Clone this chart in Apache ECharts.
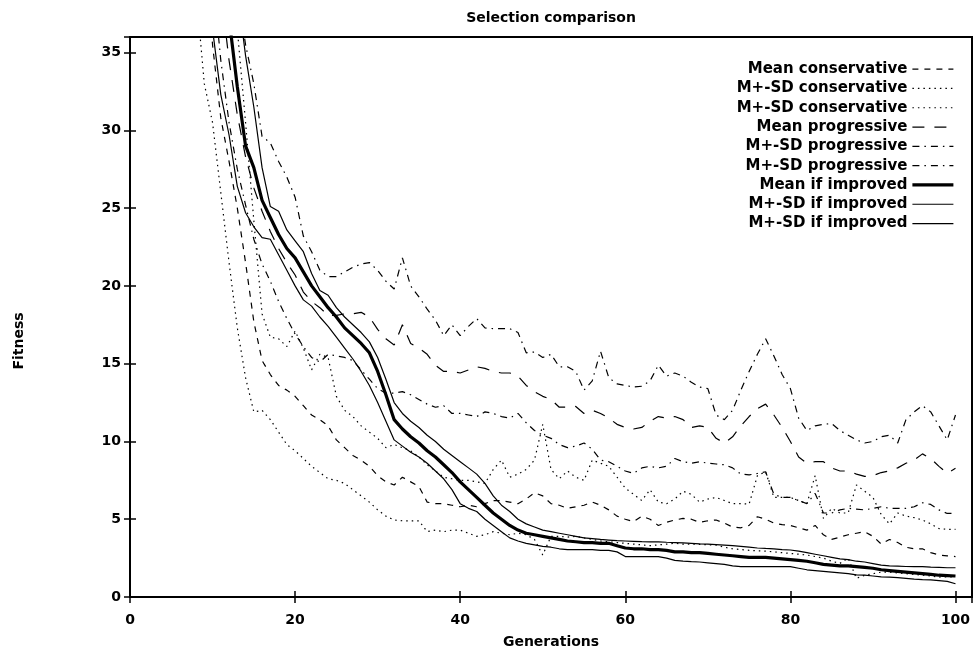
<!DOCTYPE html>
<html>
<head>
<meta charset="utf-8">
<script src="https://cdn.jsdelivr.net/npm/echarts@6/dist/echarts.min.js"></script>
<style>
  html, body { margin: 0; padding: 0; background: #fff; }
  #chart { width: 976px; height: 653px; }
</style>
</head>
<body>
<div id="chart"></div>
<script>
// generations 8..100, one value per generation
const firstGen = 8

const meanCons = [
  48, 42, 35.5, 30.8, 28, 25, 21.5, 17.7, 15.2, 14.3,
  13.6, 13.3, 12.9, 12.3, 11.7, 11.4, 11.0, 10.1, 9.6, 9.1,
  8.8, 8.4, 7.8, 7.4, 7.2, 7.7, 7.4, 7.1, 6.1, 6.0,
  6.0, 5.9, 5.8, 5.9, 5.8, 6.0, 6.2, 6.2, 6.1, 6.0,
  6.3, 6.7, 6.5, 6.0, 5.9, 5.7, 5.8, 5.9, 6.1, 5.9,
  5.6, 5.2, 5.0, 4.85, 5.2, 5.0, 4.6, 4.8, 4.95, 5.05,
  5.0, 4.8, 4.9, 4.95, 4.75, 4.5, 4.45, 4.6, 5.16, 5.0,
  4.75, 4.65, 4.6, 4.45, 4.3, 4.6, 4.0, 3.7, 3.85, 4.0,
  4.1, 4.2, 3.9, 3.4, 3.7, 3.5, 3.2, 3.1, 3.1, 2.85,
  2.7, 2.65, 2.6
]
const consLo = [
  39, 33, 30.5, 26, 21.5, 17.3, 14.1, 11.9, 12.0, 11.4,
  10.6, 9.8, 9.4, 8.9, 8.4, 8.0, 7.6, 7.5, 7.3, 6.9,
  6.5, 6.1, 5.6, 5.2, 4.95, 4.9, 4.9, 4.9, 4.2, 4.3,
  4.2, 4.3, 4.3, 4.1, 3.9, 4.0, 4.2, 4.1, 4.0, 4.1,
  4.0, 3.7, 2.7, 3.9, 3.9, 3.85, 3.9, 3.8, 3.7, 3.6,
  3.55, 3.5, 3.45, 3.4, 3.35, 3.3, 3.35, 3.4, 3.45, 3.4,
  3.4, 3.38, 3.36, 3.34, 3.2, 3.1, 3.05, 3.0, 2.97, 2.95,
  2.9, 2.85, 2.8, 2.75, 2.7, 2.6, 2.5, 2.3, 2.16, 2.5,
  1.2, 1.4, 1.5, 1.6, 1.6, 1.55, 1.5, 1.45, 1.4, 1.35,
  1.28, 1.3, 1.3
]
const consHi = [
  70, 60, 52, 46, 41, 36.5, 30.5, 24.2, 18.2, 16.7,
  16.6, 16.1, 17.1, 16.0, 14.6, 15.6, 15.4, 12.9, 12.0, 11.6,
  11.0, 10.6, 10.2, 9.6, 9.8, 9.6, 9.4, 9.0, 8.5, 8.1,
  7.7, 7.6, 7.5, 7.5, 7.4, 7.3, 8.2, 8.8, 7.7, 7.9,
  8.2, 8.8, 11.1, 8.2, 7.6, 8.1, 7.7, 7.5, 8.8, 8.6,
  8.4, 7.7, 7.0, 6.6, 6.2, 6.9, 6.1, 6.0, 6.3, 6.8,
  6.6, 6.1, 6.3, 6.4, 6.2, 6.0, 6.0, 5.97, 7.8, 8.05,
  6.4, 6.4, 6.4, 6.2, 6.0, 7.8, 5.05, 5.7, 5.4, 5.4,
  7.2, 6.8, 6.4, 5.3, 4.7, 5.4, 5.2, 5.1, 4.95, 4.7,
  4.4, 4.35, 4.35
]
const meanProg = [
  60, 52, 45, 39, 34.5, 31, 28.3, 26.3, 24.8, 23.5,
  22.4, 21.5, 20.7, 19.6, 19.0, 18.6, 18.1, 18.1, 18.2, 18.2,
  18.3, 18.0, 17.2, 16.6, 16.2, 17.5, 16.3, 16.0, 15.6, 14.9,
  14.5, 14.5, 14.4, 14.6, 14.8, 14.7, 14.5, 14.4, 14.4, 14.2,
  13.6, 13.2, 12.9, 12.7, 12.2, 12.2, 12.25, 11.8, 12.0, 11.8,
  11.5, 11.1, 10.9, 10.8, 10.9, 11.3, 11.6, 11.5, 11.6, 11.4,
  10.9, 11.0, 10.9, 10.2, 9.9, 10.3, 11.0, 11.6, 12.1, 12.4,
  11.7, 10.9, 10.0, 9.0, 8.6, 8.7, 8.7, 8.3, 8.1, 8.1,
  7.9, 7.75, 7.8, 8.0, 8.1, 8.3, 8.6, 8.8, 9.2, 8.9,
  8.4, 7.95, 8.27
]
const progLo = [
  55, 47, 40, 34.5, 30.5, 27.5, 25.2, 23.0, 21.4, 20.3,
  19.0, 17.9, 16.9, 16.1, 15.4, 15.1, 15.6, 15.5, 15.4, 15.2,
  14.6, 14.0, 13.4, 13.1, 13.1, 13.2, 13.0, 12.7, 12.4, 12.2,
  12.3, 11.8, 11.8, 11.7, 11.6, 11.9, 11.8, 11.6, 11.5, 11.8,
  11.2, 10.7, 10.4, 10.2, 9.8, 9.6, 9.7, 9.9, 9.5, 8.8,
  8.7, 8.4, 8.1, 7.95, 8.3, 8.4, 8.3, 8.4, 8.9, 8.7,
  8.6, 8.7, 8.6, 8.55, 8.5, 8.3, 7.9, 7.85, 7.94, 8.05,
  6.6, 6.4, 6.4, 6.2, 6.0, 6.66, 5.4, 5.4, 5.6, 5.7,
  5.65, 5.6, 5.7, 5.8, 5.7, 5.7, 5.7, 5.8, 6.06, 5.95,
  5.6, 5.37, 5.37
]
const progHi = [
  75, 66, 58, 50, 44, 39, 35.5, 33, 29.6, 29.2,
  28.0, 27.0, 25.7, 23.2, 22.2, 21.0, 20.6, 20.6, 20.9, 21.2,
  21.4, 21.5, 21.0, 20.3, 19.8, 21.8, 20.0, 19.3, 18.5, 17.8,
  16.8, 17.5, 16.8, 17.4, 17.9, 17.3, 17.25, 17.25, 17.25, 17.0,
  15.7, 15.75, 15.4, 15.6, 14.8, 14.8, 14.5, 13.3, 13.9, 15.8,
  14.1, 13.7, 13.6, 13.5, 13.55, 13.9, 14.9, 14.2, 14.4, 14.2,
  13.8, 13.5, 13.4, 11.7, 11.4, 12.0, 13.3, 14.5, 15.6, 16.6,
  15.5, 14.3, 13.4, 11.5, 10.7, 11.0, 11.1, 11.15, 10.7, 10.4,
  10.1, 9.9, 10.0, 10.3, 10.4, 9.9, 11.4, 11.9, 12.3, 11.9,
  11.0, 10.1, 11.7
]
const meanImp = [
  65, 56, 48, 41, 37.2, 32.8, 29.0, 27.6, 25.5, 24.4,
  23.3, 22.4, 21.8, 20.9, 20.0, 19.3, 18.6, 18.0, 17.3, 16.8,
  16.3, 15.7, 14.5, 13.0, 11.4, 10.8, 10.3, 9.9, 9.4, 9.0,
  8.5, 8.0, 7.4, 6.9, 6.4, 5.9, 5.4, 5.0, 4.6, 4.3,
  4.1, 4.0, 3.9, 3.8, 3.7, 3.6, 3.55, 3.5, 3.5, 3.45,
  3.45, 3.3, 3.15, 3.1, 3.1, 3.05, 3.05, 3.0, 2.9, 2.9,
  2.85, 2.85, 2.8, 2.75, 2.7, 2.65, 2.6, 2.55, 2.55, 2.55,
  2.5, 2.45, 2.4, 2.35, 2.3, 2.2, 2.1, 2.05, 2.0, 2.0,
  1.95, 1.9, 1.85, 1.75, 1.7, 1.65, 1.6, 1.55, 1.5, 1.45,
  1.4, 1.38, 1.35
]
const impLo = [
  52, 44, 36.5, 32.3, 29.7, 26.4, 24.7, 23.8, 23.1, 23.0,
  22.0, 21.0, 20.0, 19.1, 18.7, 18.0, 17.4, 16.7, 16.0, 15.3,
  14.5, 13.6, 12.5, 11.3, 10.1, 9.7, 9.3, 9.0, 8.6, 8.1,
  7.6, 6.9, 6.0, 5.7, 5.5, 5.0, 4.6, 4.2, 3.8, 3.6,
  3.45, 3.35, 3.25, 3.2, 3.1, 3.05, 3.05, 3.05, 3.05, 3.0,
  3.0, 2.9, 2.6, 2.6, 2.6, 2.6, 2.6, 2.5, 2.35, 2.3,
  2.27, 2.25, 2.2, 2.15, 2.1, 2.0, 1.95, 1.95, 1.95, 1.95,
  1.95, 1.95, 1.95, 1.85, 1.75, 1.7, 1.65, 1.6, 1.55, 1.5,
  1.42, 1.4, 1.35, 1.3, 1.28, 1.25, 1.2, 1.15, 1.12, 1.1,
  1.05, 1.0, 0.85
]
const impHi = [
  75, 65, 56, 47, 42, 39, 34.8, 31.5, 27.6, 25.1,
  24.8, 23.6, 22.9, 22.2, 20.8, 19.7, 19.4, 18.6, 18.0, 17.5,
  17.0, 16.4, 15.4, 14.0, 12.5, 11.8, 11.3, 10.9, 10.4, 10.0,
  9.5, 9.1, 8.7, 8.3, 7.9, 7.3, 6.5, 5.9, 5.5, 5.0,
  4.7, 4.5, 4.3, 4.2, 4.1, 4.0, 3.9, 3.8, 3.75, 3.7,
  3.66, 3.62, 3.6, 3.58, 3.56, 3.55, 3.55, 3.52, 3.5, 3.48,
  3.45, 3.42, 3.4, 3.37, 3.34, 3.3, 3.25, 3.2, 3.15, 3.12,
  3.1, 3.05, 3.02, 2.95, 2.85, 2.75, 2.65, 2.55, 2.45, 2.4,
  2.3, 2.25, 2.15, 2.05, 2.0, 1.98, 1.96, 1.95, 1.95, 1.92,
  1.9, 1.88, 1.88
]

const gens = meanCons.map((v, i) => firstGen + i)

const font = 'DejaVu Sans'
const dash = [6, 6]
const dot = [1.5, 4]
const longDash = [12, 10]
const dashDot = [7, 5, 1.5, 5]

// name#suffix keeps the two legend rows with the same label apart
const lines = [
  { name: 'Mean conservative', values: meanCons, width: 1.2, type: dash },
  { name: 'M+-SD conservative#lo', values: consLo, width: 1.2, type: dot },
  { name: 'M+-SD conservative#hi', values: consHi, width: 1.2, type: dot },
  { name: 'Mean progressive', values: meanProg, width: 1.2, type: longDash },
  { name: 'M+-SD progressive#lo', values: progLo, width: 1.2, type: dashDot },
  { name: 'M+-SD progressive#hi', values: progHi, width: 1.2, type: dashDot },
  { name: 'Mean if improved', values: meanImp, width: 3.2, type: 'solid' },
  { name: 'M+-SD if improved#lo', values: impLo, width: 1.2, type: 'solid' },
  { name: 'M+-SD if improved#hi', values: impHi, width: 1.2, type: 'solid' }
]

const labelStyle = { fontFamily: font, fontWeight: 'bold', fontSize: 14, color: '#000' }

const chart = echarts.init(document.getElementById('chart'))
chart.setOption({
  animation: false,
  backgroundColor: '#fff',
  grid: {
    left: 130,
    right: 4,
    top: 37,
    bottom: 56,
    show: true,
    borderColor: '#000',
    borderWidth: 2,
    outerBoundsMode: 'none'
  },
  legend: {
    orient: 'vertical',
    align: 'right',
    right: 21,
    top: 59.5,
    padding: 0,
    itemGap: 0,
    itemWidth: 41,
    itemHeight: 10,
    selectedMode: false,
    formatter: name => name.split('#')[0],
    textStyle: Object.assign({}, labelStyle, { fontSize: 15, lineHeight: 19.3 }),
    data: lines.map(l => ({
      name: l.name,
      itemStyle: { color: 'transparent', borderWidth: 0, opacity: 0 },
      lineStyle: { color: '#000', width: l.width, type: l.type }
    }))
  },
  xAxis: [
    {
      type: 'value',
      position: 'bottom',
      min: 0,
      max: 102,
      interval: 20,
      splitLine: { show: false },
      axisLine: { lineStyle: { color: '#000', width: 2 } },
      axisTick: { inside: true, length: 6, lineStyle: { color: '#000', width: 1.5 } },
      axisLabel: Object.assign({}, labelStyle, {
        margin: 16,
        formatter: v => (v % 20 === 0 ? v : '')
      }),
      name: 'Generations',
      nameLocation: 'middle',
      nameGap: 38,
      nameTextStyle: labelStyle
    },
    {
      // top border ticks; the plot title sits above it, centred on the plot
      type: 'value',
      position: 'top',
      min: 0,
      max: 102,
      interval: 20,
      splitLine: { show: false },
      axisLine: { lineStyle: { color: '#000', width: 2 } },
      axisTick: { inside: true, length: 6, lineStyle: { color: '#000', width: 1.5 } },
      axisLabel: { show: false },
      name: 'Selection comparison',
      nameLocation: 'middle',
      nameGap: 12,
      nameTextStyle: labelStyle
    }
  ],
  yAxis: [
    {
      type: 'value',
      position: 'left',
      min: 0,
      max: 36,
      interval: 5,
      splitLine: { show: false },
      axisLine: { lineStyle: { color: '#000', width: 2 } },
      axisTick: { inside: true, length: 6, lineStyle: { color: '#000', width: 1.5 } },
      axisLabel: Object.assign({}, labelStyle, {
        margin: 9,
        formatter: v => (v % 5 === 0 ? v : '')
      }),
      name: 'Fitness',
      nameLocation: 'middle',
      nameGap: 104,
      nameTextStyle: Object.assign({}, labelStyle, { padding: [0, 48, 0, 0] })
    },
    {
      type: 'value',
      position: 'right',
      min: 0,
      max: 36,
      interval: 5,
      splitLine: { show: false },
      axisLine: { lineStyle: { color: '#000', width: 2 } },
      axisTick: { inside: true, length: 6, lineStyle: { color: '#000', width: 1.5 } },
      axisLabel: { show: false }
    }
  ],
  series: lines.map(l => ({
    name: l.name,
    type: 'line',
    xAxisIndex: 0,
    yAxisIndex: 0,
    symbol: 'none',
    silent: true,
    color: '#000',
    lineStyle: { color: '#000', width: l.width, type: l.type },
    data: l.values.map((v, i) => [gens[i], v])
  }))
})
</script>
</body>
</html>
